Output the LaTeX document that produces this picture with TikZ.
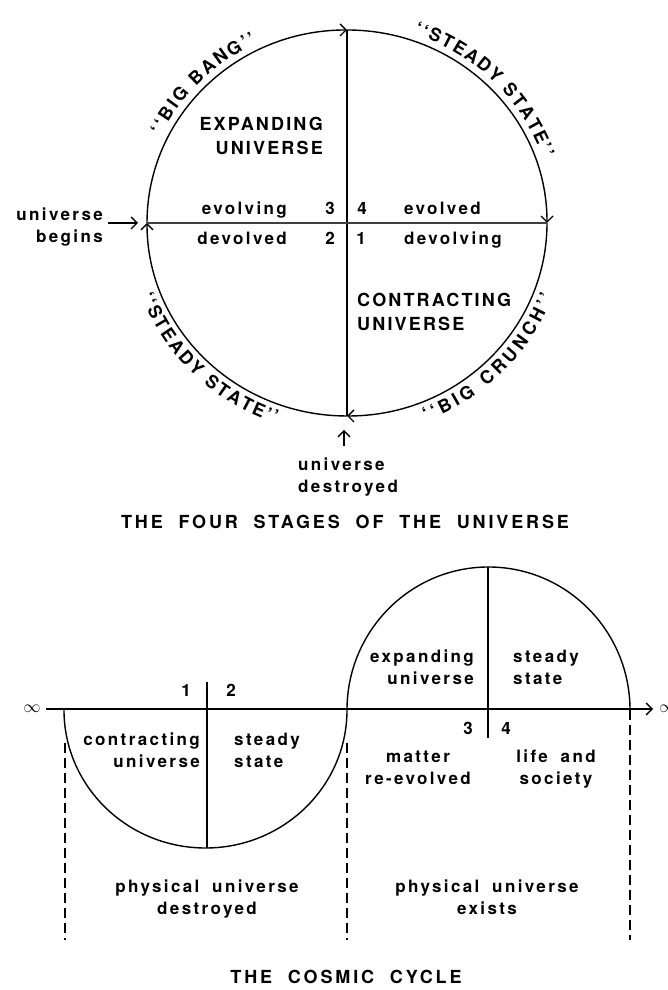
\documentclass[tikz,border=0pt]{standalone}
\usepackage{fontspec}
\setmainfont{TeX Gyre Heros}
\newfontfamily\lcfam[LetterSpace=14,WordSpace=1.8]{TeX Gyre Heros}
\newfontfamily\ucfam[LetterSpace=12]{TeX Gyre Heros}
\newfontfamily\ttlfam[LetterSpace=16,WordSpace=2.0]{TeX Gyre Heros}
\newcommand\arcf{\bfseries\fontsize{18}{18}\selectfont}
\usetikzlibrary{arrows.meta,decorations.text,calc}
\tikzset{
  ln/.style={line width=1.4pt},
  arr/.style={-{Straight Barb[length=6pt,width=12pt]}},
  lc/.style={font=\lcfam\bfseries\fontsize{17}{22}\selectfont, inner sep=0pt},
  uc/.style={font=\ucfam\bfseries\fontsize{18}{24}\selectfont, inner sep=0pt},
  ttl/.style={font=\ttlfam\bfseries\fontsize{18}{22}\selectfont, inner sep=0pt},
  inf/.style={font=\fontsize{18}{18}\selectfont, inner sep=0pt},
  dsh/.style={line width=1.3pt, dash pattern=on 10pt off 5pt},
  arctext/.style={decorate, decoration={text along path, text align={fit to path}, text={|\arcf|#1}}},
}
\begin{document}
\begin{tikzpicture}[x=1pt,y=1pt]
\useasboundingbox (0,0) rectangle (667,990);
\fill[white] (0,0) rectangle (667,990);
% ---------------- top diagram ----------------
\coordinate (C1) at (347,767);
\coordinate (T) at (347,960);
\coordinate (B) at (347,574);
\coordinate (L) at (147,767);
\coordinate (R) at (547,767);
\draw[ln,arr] (L) arc[start angle=180,end angle=90,x radius=200pt,y radius=193pt];
\draw[ln,arr] (T) arc[start angle=90,end angle=0,x radius=200pt,y radius=193pt];
\draw[ln,arr] (R) arc[start angle=0,end angle=-90,x radius=200pt,y radius=193pt];
\draw[ln,arr] (B) arc[start angle=270,end angle=180,x radius=200pt,y radius=193pt];
\draw[ln] (T) -- (B);
\draw[line width=2.2pt, black!75] (L) -- (R);

\path[arctext={``BIG BANG''}] ([shift={(154:207pt and 200pt)}]C1) arc[start angle=154,end angle=116,x radius=207pt,y radius=200pt];
\path[arctext={``STEADY STATE''}] ([shift={(71:207pt and 200pt)}]C1) arc[start angle=71,end angle=19,x radius=207pt,y radius=200pt];
\path[arctext={``STEADY STATE''}] ([shift={(200:219pt and 212pt)}]C1) arc[start angle=200,end angle=251,x radius=219pt,y radius=212pt];
\path[arctext={``BIG CRUNCH''}] ([shift={(291:219pt and 212pt)}]C1) arc[start angle=291,end angle=340,x radius=219pt,y radius=212pt];

\node[uc, align=right, anchor=base east] (expu) at (323,835) {EXPANDING\\UNIVERSE};
\node[uc, align=left, anchor=base west] (conu) at (357,659) {CONTRACTING\\UNIVERSE};

\node[lc, anchor=base east] (evolving) at (287,775) {evolving};
\node[lc, anchor=base] (n3a) at (330,775) {3};
\node[lc, anchor=base] (n4a) at (362,775) {4};
\node[lc, anchor=base west] (evolved) at (404,775) {evolved};
\node[lc, anchor=base east] (devolved) at (287,745) {devolved};
\node[lc, anchor=base] (n2a) at (330,745) {2};
\node[lc, anchor=base] (n1a) at (361,745) {1};
\node[lc, anchor=base west] (devolving) at (404,745) {devolving};

\node[lc, align=right, anchor=base east] (ub) at (103,747) {universe\\begins};
\draw[ln,arr] ($(ub.east |- L)+(5,0)$) -- ($(L)+(-9,0)$);

\node[lc, align=left, anchor=base west] (ud) at (298,497) {universe\\destroyed};
\draw[ln,arr] ($(ud.north -| B)+(-3,12)$) -- ($(B)+(-3,-14)$);

\node[ttl, anchor=base] (title1) at (345,461) {THE FOUR STAGES OF THE UNIVERSE};

% ---------------- bottom diagram ----------------
\coordinate (Lend) at (64,280);
\coordinate (Mid) at (347,280);
\coordinate (Rend) at (630,280);
\node[inf] (infL) at (32,281) {$\infty$};
\node[inf] (infR) at (668,281) {$\infty$};
\draw[ln,arr] ($(infL.east)+(5,0)$) -- ($(infR.west)+(-6,0)$);

\draw[ln] (Lend) arc[start angle=180,end angle=360,x radius=141.5pt,y radius=138pt];
\draw[ln] (Mid) arc[start angle=180,end angle=0,x radius=141.5pt,y radius=143pt];
\coordinate (vLt) at (207,308);
\coordinate (vLb) at (207,142);
\coordinate (vRt) at (488,423);
\coordinate (vRb) at (488,252);
\draw[ln] (vLt) -- (vLb);
\draw[ln] (vRt) -- (vRb);

\coordinate (dLt) at (65,247);  \coordinate (dLb) at (65,50);
\coordinate (dMt) at (347,247); \coordinate (dMb) at (347,50);
\coordinate (dRt) at (630,280); \coordinate (dRb) at (630,50);
\draw[dsh] (dLt) -- (dLb);
\draw[dsh] (dMt) -- (dMb);
\draw[dsh] (dRt) -- (dRb);

\node[lc, anchor=base] (n1b) at (186,293) {1};
\node[lc, anchor=base] (n2b) at (231,293) {2};
\node[lc, anchor=base] (n3b) at (468,255) {3};
\node[lc, anchor=base] (n4b) at (506,255) {4};

\node[lc, align=right, anchor=base east] (cu) at (200,222) {contracting\\universe};
\node[lc, align=left, anchor=base west] (ssL) at (234,222) {steady\\state};
\node[lc, align=right, anchor=base east] (eu) at (474,305) {expanding\\universe};
\node[lc, align=left, anchor=base west] (ssR) at (513,305) {steady\\state};
\node[lc, align=center, anchor=base] (mre) at (418,205) {matter\\re-evolved};
\node[lc, align=center, anchor=base] (las) at (556,205) {life and\\society};
\node[lc, align=center, anchor=base] (pud) at (207,75) {physical universe\\destroyed};
\node[lc, align=center, anchor=base] (pue) at (487,75) {physical universe\\exists};

\node[ttl, anchor=base] (title2) at (346,6) {THE COSMIC CYCLE};
\end{tikzpicture}
\end{document}
